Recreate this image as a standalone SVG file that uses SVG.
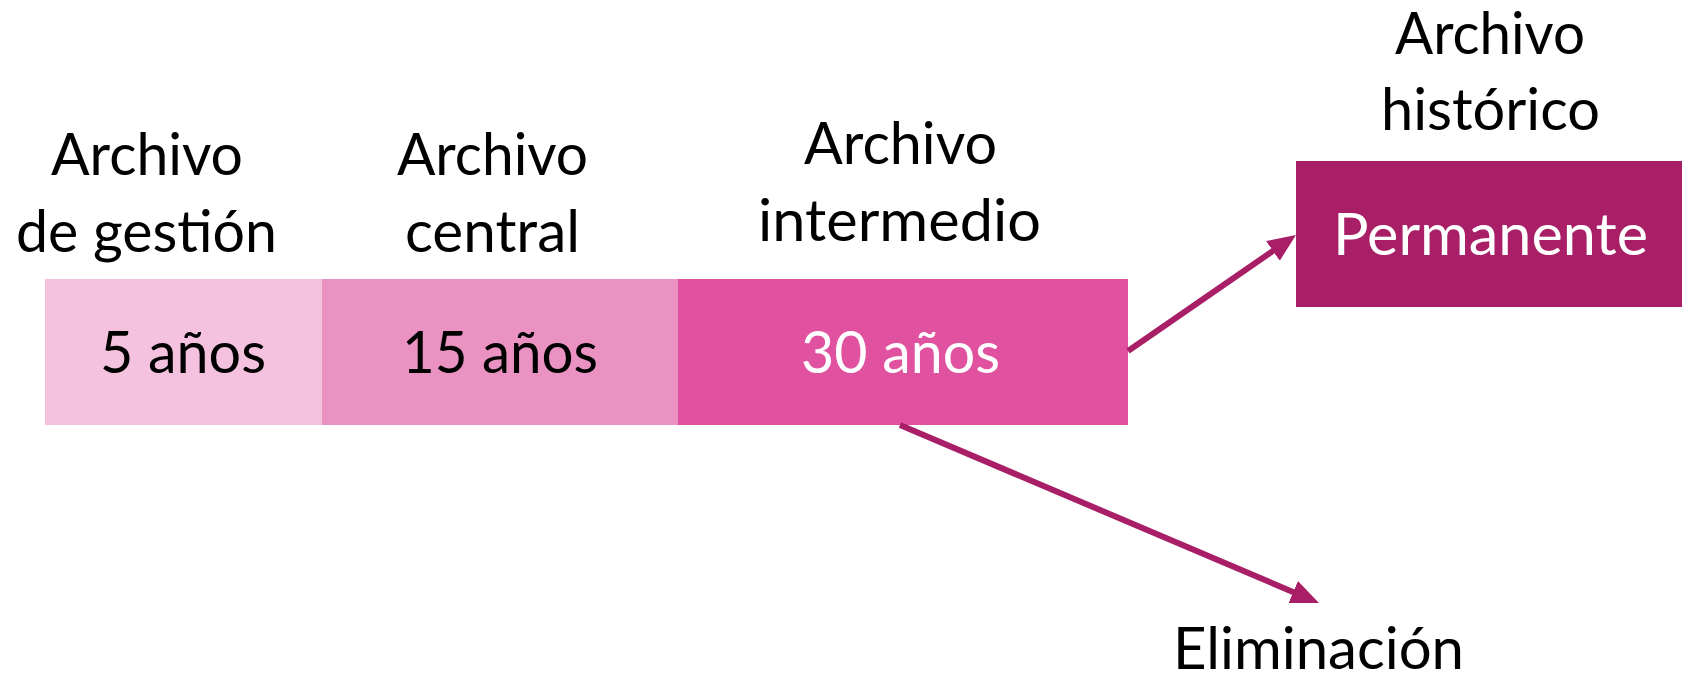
<svg xmlns="http://www.w3.org/2000/svg" width="1684" height="676" viewBox="0 0 1684 676">
<style>
text{font-family:Lato,"Open Sans","Liberation Sans",sans-serif;font-size:58px;text-anchor:middle}
.dk{fill:#000}
.wt{fill:#fff}
.conn{stroke:#A91F67;stroke-width:6;fill:none}
</style>
<defs>
<marker id="ah" markerUnits="userSpaceOnUse" markerWidth="28" markerHeight="24" refX="8" refY="12" orient="auto">
<path d="M0,0 L28,12 L0,24 z" fill="#A91F67"/>
</marker>
</defs>
<rect width="1684" height="676" fill="#fff"/>
<g id="gestion">
<rect x="45" y="279" width="277" height="146" fill="#F4C2DE"/>
<text class="dk" x="147" y="175" textLength="192" lengthAdjust="spacingAndGlyphs">Archivo</text>
<text class="dk" x="146.5" y="252" textLength="261" lengthAdjust="spacingAndGlyphs">de gestión</text>
<text class="dk" x="183" y="373" textLength="166" lengthAdjust="spacingAndGlyphs">5 años</text>
</g>
<g id="central">
<rect x="322" y="279" width="356" height="146" fill="#EA93C2"/>
<text class="dk" x="492.5" y="175" textLength="191" lengthAdjust="spacingAndGlyphs">Archivo</text>
<text class="dk" x="492.5" y="252" textLength="175" lengthAdjust="spacingAndGlyphs">central</text>
<text class="dk" x="500" y="373" textLength="196" lengthAdjust="spacingAndGlyphs">15 años</text>
</g>
<g id="intermedio">
<rect x="678" y="279" width="450" height="146" fill="#E0529F"/>
<text class="dk" x="900.5" y="164" textLength="193" lengthAdjust="spacingAndGlyphs">Archivo</text>
<text class="dk" x="899.5" y="241" textLength="283" lengthAdjust="spacingAndGlyphs">intermedio</text>
<text class="wt" x="900.5" y="373" textLength="199" lengthAdjust="spacingAndGlyphs">30 años</text>
</g>
<g id="historico">
<rect x="1296" y="161" width="386" height="146" fill="#A91F67"/>
<text class="dk" x="1490" y="54" textLength="190" lengthAdjust="spacingAndGlyphs">Archivo</text>
<text class="dk" x="1490.5" y="130" textLength="219" lengthAdjust="spacingAndGlyphs">histórico</text>
<text class="wt" x="1490.5" y="255" textLength="315" lengthAdjust="spacingAndGlyphs">Permanente</text>
</g>
<g id="eliminacion">
<text class="dk" x="1318.5" y="669" textLength="291" lengthAdjust="spacingAndGlyphs">Eliminación</text>
</g>
<g id="connectors">
<line class="conn" x1="1128" y1="351" x2="1279.5" y2="246.4" marker-end="url(#ah)"/>
<line class="conn" x1="900" y1="425" x2="1300.6" y2="595.2" marker-end="url(#ah)"/>
</g>
</svg>
